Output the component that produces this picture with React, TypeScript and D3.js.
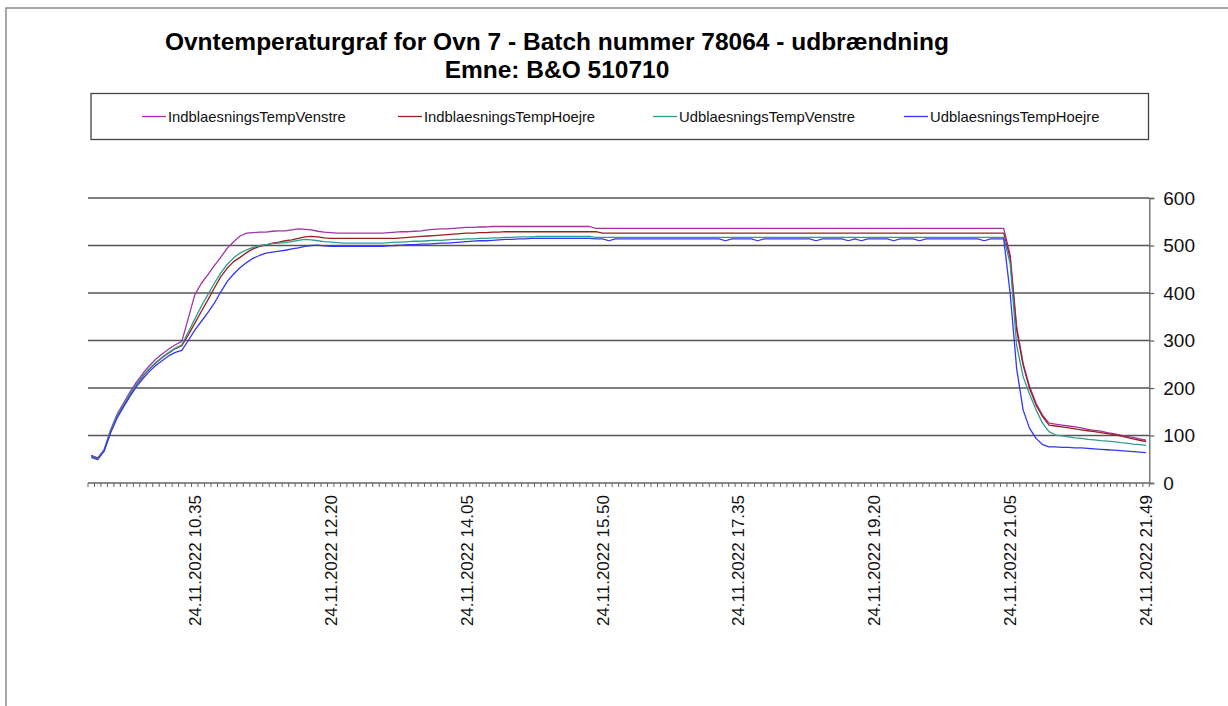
import React, { useEffect, useRef } from 'react';
import * as d3 from 'd3';

const width = 1228;
const height = 706;
const plot = { left: 88, right: 1149.3, top: 198, bottom: 483 };

const titleLines = [
  'Ovntemperaturgraf for Ovn 7 - Batch nummer 78064 - udbrændning',
  'Emne: B&O 510710',
];

const seriesNames = [
  'IndblaesningsTempVenstre',
  'IndblaesningsTempHoejre',
  'UdblaesningsTempVenstre',
  'UdblaesningsTempHoejre',
];
const seriesColors = ['#A033A8', '#9A1F1F', '#2F9C8C', '#3535F5'];

// x axis: one category per reading, a label every 21st category
const tickLabels = [
  '24.11.2022 10.35', '24.11.2022 12.20', '24.11.2022 14.05', '24.11.2022 15.50',
  '24.11.2022 17.35', '24.11.2022 19.20', '24.11.2022 21.05', '24.11.2022 21.49',
];
const tickIndex = [16, 37, 58, 79, 100, 121, 142, 163];
const yTicks = [0, 100, 200, 300, 400, 500, 600];

const indVenstre = [
  58, 53, 70, 112, 145, 168, 192, 213, 231, 247,
  261, 272, 282, 291, 298, 347, 396, 420, 438, 457,
  475, 494, 508, 520, 526, 527, 528, 528, 530, 531,
  531, 533, 535, 534, 533, 530, 528, 527, 526, 526,
  526, 526, 526, 526, 526, 526, 527, 528, 529, 529,
  530, 531, 533, 534, 535, 535, 536, 537, 538, 538,
  539, 539, 540, 540, 540, 540, 540, 540, 540, 540,
  540, 540, 540, 540, 540, 540, 540, 540, 536, 536,
  536, 536, 536, 536, 536, 536, 536, 536, 536, 536,
  536, 536, 536, 536, 536, 536, 536, 536, 536, 536,
  536, 536, 536, 536, 536, 536, 536, 536, 536, 536,
  536, 536, 536, 536, 536, 536, 536, 536, 536, 536,
  536, 536, 536, 536, 536, 536, 536, 536, 536, 536,
  536, 536, 536, 536, 536, 536, 536, 536, 536, 536,
  536, 536, 480, 330, 252, 203, 168, 143, 126, 124,
  122, 120, 118, 116, 113, 111, 109, 106, 104, 101,
  98, 96, 93, 90,
];

const indHoejre = [
  57, 52, 69, 108, 140, 162, 186, 207, 225, 240,
  253, 264, 274, 283, 289, 312, 336, 361, 385, 410,
  434, 452, 466, 475, 485, 493, 498, 501, 505, 507,
  510, 512, 515, 518, 519, 518, 516, 515, 515, 515,
  515, 515, 515, 515, 515, 515, 515, 515, 516, 517,
  518, 519, 520, 521, 522, 523, 524, 525, 526, 526,
  527, 527, 528, 528, 529, 529, 529, 529, 529, 529,
  529, 529, 529, 529, 529, 529, 529, 529, 529, 526,
  526, 526, 526, 526, 526, 526, 526, 526, 526, 526,
  526, 526, 526, 526, 526, 526, 526, 526, 526, 526,
  526, 526, 526, 526, 526, 526, 526, 526, 526, 526,
  526, 526, 526, 526, 526, 526, 526, 526, 526, 526,
  526, 526, 526, 526, 526, 526, 526, 526, 526, 526,
  526, 526, 526, 526, 526, 526, 526, 526, 526, 526,
  526, 526, 473, 322, 248, 199, 164, 140, 122, 120,
  118, 116, 114, 112, 110, 108, 106, 104, 102, 99,
  96, 93, 90, 87,
];

const udVenstre = [
  56, 51, 70, 110, 142, 164, 188, 208, 226, 241,
  254, 265, 275, 284, 291, 318, 345, 372, 396, 420,
  442, 460, 474, 484, 491, 496, 500, 502, 504, 505,
  506, 508, 511, 513, 512, 510, 508, 507, 506, 505,
  505, 505, 505, 505, 505, 505, 506, 507, 507, 508,
  509, 509, 510, 511, 511, 512, 513, 513, 514, 514,
  515, 515, 516, 516, 517, 517, 518, 518, 518, 519,
  519, 519, 519, 519, 519, 519, 519, 519, 517, 517,
  517, 517, 517, 517, 517, 517, 517, 517, 517, 517,
  517, 517, 517, 517, 517, 517, 517, 517, 517, 517,
  517, 517, 517, 517, 517, 517, 517, 517, 517, 517,
  517, 517, 517, 517, 517, 517, 517, 517, 517, 517,
  517, 517, 517, 517, 517, 517, 517, 517, 517, 517,
  517, 517, 517, 517, 517, 517, 517, 517, 517, 517,
  517, 517, 462, 290, 224, 187, 154, 126, 108, 101,
  99, 97, 95, 94, 92, 91, 89, 88, 87, 85,
  84, 82, 81, 79,
];

const udHoejre = [
  54, 49, 67, 106, 137, 160, 183, 203, 220, 235,
  248, 258, 268, 275, 279, 300, 322, 340, 358, 378,
  402, 424, 440, 453, 464, 473, 479, 484, 486, 488,
  490, 493, 495, 498, 500, 501, 499, 498, 498, 498,
  498, 498, 498, 498, 498, 498, 499, 500, 501, 502,
  502, 503, 503, 504, 505, 505, 506, 507, 508, 509,
  510, 510, 511, 512, 513, 513, 514, 514, 515, 515,
  515, 515, 515, 515, 515, 515, 515, 515, 514, 514,
  510, 514, 514, 514, 514, 514, 514, 514, 514, 514,
  514, 514, 514, 514, 514, 514, 514, 514, 510, 514,
  514, 514, 514, 510, 514, 514, 514, 514, 514, 514,
  514, 514, 510, 514, 514, 514, 514, 510, 514, 510,
  514, 514, 514, 514, 510, 514, 514, 514, 510, 514,
  514, 514, 514, 514, 514, 514, 514, 514, 510, 514,
  514, 514, 399, 241, 154, 115, 94, 81, 76, 76,
  75, 75, 74, 74, 73, 72, 71, 70, 69, 68,
  67, 66, 65, 64,
];

const seriesValues = [indVenstre, indHoejre, udVenstre, udHoejre];

// legend entry x positions (left end of sample line)
const legendX = [142, 398, 653, 904];

function OvenChart() {
  const ref = useRef<SVGSVGElement>(null);

  useEffect(() => {
    const svg = d3.select(ref.current);
    svg.selectAll('*').remove();
    svg.attr('width', width).attr('height', height)
      .style('font-family', '"Liberation Sans", Arial, sans-serif');

    svg.append('rect')
      .attr('width', width).attr('height', height).attr('fill', '#fff');

    // outer frame (runs past right and bottom edge)
    svg.append('rect')
      .attr('x', 6).attr('y', 8)
      .attr('width', width + 20).attr('height', height + 20)
      .attr('fill', 'none').attr('stroke', '#8a8a8a').attr('stroke-width', 1.5);

    // title
    svg.append('g').selectAll('text')
      .data(titleLines)
      .join('text')
        .attr('x', 557)
        .attr('y', (d, i) => 50 + i * 28)
        .attr('text-anchor', 'middle')
        .attr('font-size', 24.5)
        .attr('font-weight', 'bold')
        .attr('fill', '#000')
        .text(d => d);

    // legend
    svg.append('rect')
      .attr('x', 91).attr('y', 93.5)
      .attr('width', 1057.5).attr('height', 46)
      .attr('fill', 'none').attr('stroke', '#444').attr('stroke-width', 1.3);

    const lg = svg.append('g').selectAll('g')
      .data(seriesNames)
      .join('g')
        .attr('transform', (d, i) => `translate(${legendX[i]},116.5)`);
    lg.append('line')
      .attr('x1', 0).attr('x2', 24)
      .attr('stroke', (d, i) => seriesColors[i]).attr('stroke-width', 1.3);
    lg.append('text')
      .attr('x', 26).attr('dy', '0.35em')
      .attr('font-size', 14.8).attr('fill', '#111')
      .text(d => d);

    const n = indVenstre.length;
    const x = d3.scaleBand<number>()
      .domain(d3.range(n))
      .range([plot.left, plot.right])
      .padding(0);
    const bw = x.bandwidth();

    const y = d3.scaleLinear()
      .domain([0, 600])
      .range([plot.bottom, plot.top]);

    // gridlines
    svg.append('g').selectAll('line')
      .data(yTicks.filter(t => t > 0))
      .join('line')
        .attr('x1', plot.left).attr('x2', plot.right)
        .attr('y1', d => y(d)).attr('y2', d => y(d))
        .attr('stroke', '#555').attr('stroke-width', 1.3);

    // right value axis
    const yAxis = svg.append('g')
      .attr('transform', `translate(${plot.right},0)`)
      .call(d3.axisRight(y).tickValues(yTicks).tickSize(5).tickPadding(9));
    yAxis.select('.domain').attr('stroke', '#666').attr('stroke-width', 1.3);
    yAxis.selectAll('.tick line').attr('stroke', '#666').attr('stroke-width', 1.3);
    yAxis.selectAll('.tick text')
      .attr('font-size', 19).attr('fill', '#111')
      .attr('font-family', '"Liberation Sans", Arial, sans-serif');

    // category axis
    const xg = svg.append('g');
    xg.append('line')
      .attr('x1', plot.left).attr('x2', plot.right)
      .attr('y1', plot.bottom).attr('y2', plot.bottom)
      .attr('stroke', '#666').attr('stroke-width', 1.3);
    xg.selectAll('line.tk')
      .data(d3.range(n + 1))
      .join('line')
        .attr('class', 'tk')
        .attr('x1', d => plot.left + d * bw).attr('x2', d => plot.left + d * bw)
        .attr('y1', plot.bottom).attr('y2', plot.bottom + 4)
        .attr('stroke', '#666').attr('stroke-width', 1);
    xg.selectAll('text')
      .data(tickLabels)
      .join('text')
        .attr('transform', (d, i) =>
          `translate(${(x(tickIndex[i]) as number) + bw / 2},${plot.bottom + 12}) rotate(-90)`)
        .attr('text-anchor', 'end')
        .attr('dy', '0.36em')
        .attr('font-size', 17)
        .attr('fill', '#111')
        .text(d => d);

    // series lines
    const line = d3.line<number>()
      .x((d, i) => (x(i) as number) + bw / 2)
      .y(d => y(d));

    svg.append('g').selectAll('path')
      .data(seriesValues)
      .join('path')
        .attr('fill', 'none')
        .attr('stroke', (d, i) => seriesColors[i])
        .attr('stroke-width', 1.3)
        .attr('stroke-linejoin', 'round')
        .attr('d', d => line(d));
  }, []);

  return <svg ref={ref} style={{ position: 'absolute', left: 0, top: 0 }} />;
}

export default function App() {
  return <OvenChart />;
}
